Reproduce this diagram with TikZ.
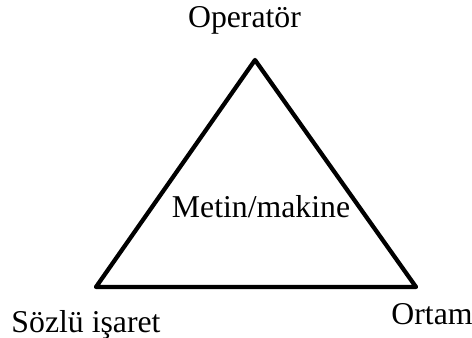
\documentclass[tikz,border=0pt]{standalone}
\usepackage{fontspec}
\setmainfont{Liberation Serif}
\begin{document}
\begin{tikzpicture}[x=0.4pt,y=-0.4pt,
  lbl/.style={inner sep=0pt,anchor=base,font=\fontsize{12.7}{14}\selectfont},
  edge/.style={line width=1.7pt,line join=round}]
\useasboundingbox (0,0) rectangle (472,338);
\coordinate (top) at (255,60);
\coordinate (bl) at (96,287);
\coordinate (br) at (416,287);
\draw[edge] (top) -- (bl) -- (br) -- cycle;
\node[lbl] (op) at (244.5,28) {Operatör};
\node[lbl] (mm) at (261,218) {Metin/makine};
\node[lbl] (si) at (86,333) {Sözlü işaret};
\node[lbl] (or) at (432,324) {Ortam};
\end{tikzpicture}
\end{document}
